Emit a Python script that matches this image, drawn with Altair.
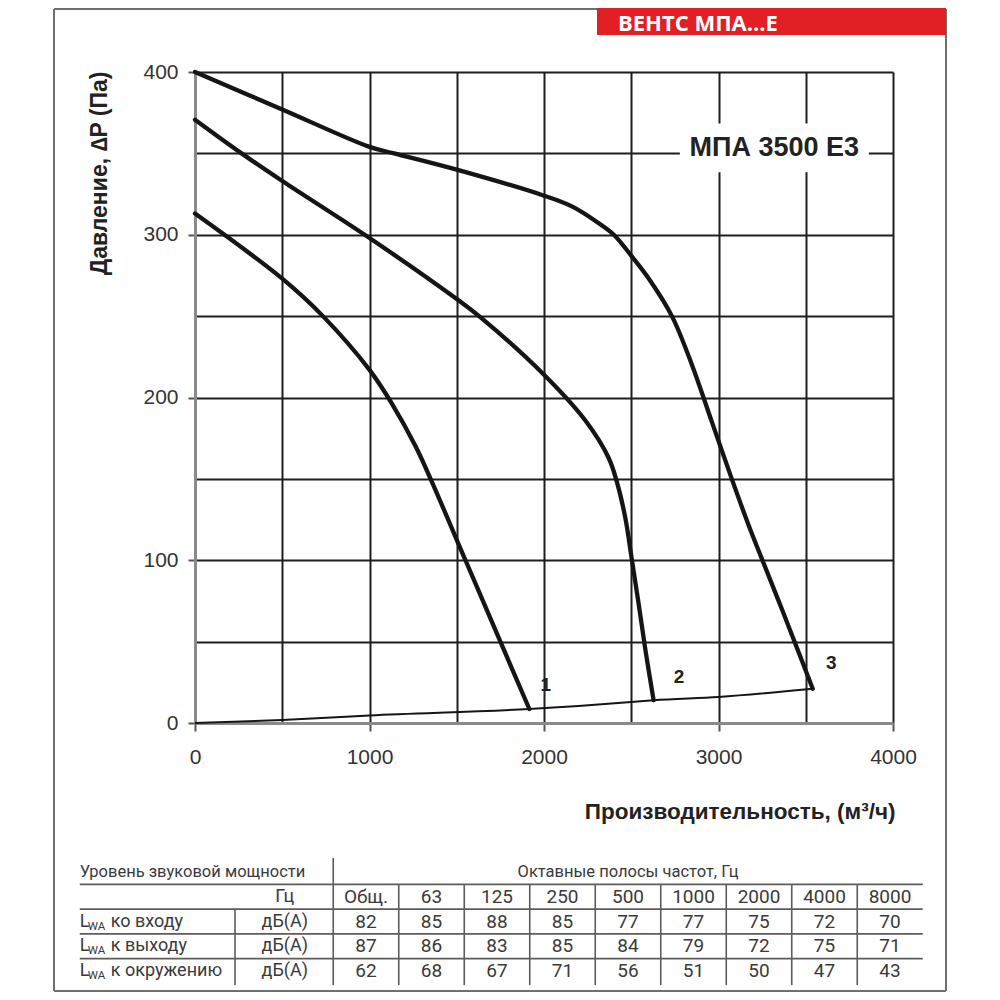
import altair as alt
import pandas as pd

# ---------------- chart data ----------------
Q1 = [0, 500, 733, 1000, 1130, 1264, 1350, 1550, 1750, 1916]
P1 = [313, 273, 250, 217, 196, 170, 150, 100, 50, 8.6]

Q2 = [0, 267, 500, 1000, 1500, 1628, 2000, 2236, 2370, 2418, 2466, 2504, 2542, 2581, 2628]
P2 = [370.7, 350, 333, 298, 260.5, 250, 214, 186, 163, 148, 126, 100, 73.5, 45, 14]

Q3 = [0, 500, 1000, 1141, 1500, 2000, 2160, 2312, 2400, 2503, 2598, 2733, 2848, 2962, 3076, 3171, 3248, 3363, 3497, 3540]
P3 = [400, 377, 354, 350, 340, 324, 317.4, 307.2, 300, 286.7, 273.4, 250, 220, 185, 150, 122, 101, 70, 33, 21]

QS = [0, 500, 1000, 1916, 2500, 2628, 3000, 3540]
PS = [0, 1.8, 4.6, 8.6, 12.9, 14, 16, 21]

CURVE_NAMES = ["1", "2", "3"]
LABEL_Q = [2010, 2774, 3646]
LABEL_P = [23.3, 28.5, 37]

MODEL = ["МПА 3500 Е3"]
MODEL_Q = [3320]
MODEL_P = [350]

SERIES = ["ВЕНТС МПА...Е"]

X_TITLE = "Производительность, (м³/ч)"
Y_TITLE = "Давление, ∆P (Па)"

# ---------------- table data ----------------
HEAD_LEFT = "Уровень звуковой мощности"
HEAD_RIGHT = "Октавные полосы частот, Гц"
BANDS = ["Общ.", "63", "125", "250", "500", "1000", "2000", "4000", "8000"]
UNIT_HEAD = "Гц"
UNIT = "дБ(А)"
ROW_LABELS = ["ко входу", "к выходу", "к окружению"]
IN_VALUES = [82, 85, 88, 85, 77, 77, 75, 72, 70]
OUT_VALUES = [87, 86, 83, 85, 84, 79, 72, 75, 71]
ENV_VALUES = [62, 68, 67, 71, 56, 51, 50, 47, 43]

# ---------------- layout ----------------
W, H = 698, 651
FONT = "Liberation Sans"
TFONT = "Roboto"
INK = "#151515"

xs = alt.Scale(domain=[0, 4000], nice=False, zero=False)
ys = alt.Scale(domain=[0, 400], nice=False, zero=False)

x_axis = alt.Axis(
    values=list(range(0, 4001, 500)),
    grid=True, gridColor="#1e1e1e", gridWidth=2,
    gridOpacity={"condition": {"test": "datum.value === 0", "value": 0}, "value": 1},
    domainColor="#8a8a8a", domainWidth=3,
    ticks=True, tickColor="#555555", tickWidth=2, tickSize=8,
    tickOpacity={"condition": {"test": "datum.value % 1000 !== 0", "value": 0}, "value": 1},
    labelExpr="datum.value % 1000 === 0 ? datum.label : ''",
    format="d", labelFont=FONT, labelFontSize=21, labelColor="#333333",
    labelPadding=15, labelFlush=False, labelOverlap=False,
    title=X_TITLE, titleFont=FONT, titleFontSize=22.5, titleFontWeight="bold",
    titleColor="#222222", titleX=700, titleY=95, titleAlign="right",
    titleBaseline="alphabetic",
)
y_axis = alt.Axis(
    values=list(range(0, 401, 50)),
    grid=True, gridColor="#1e1e1e", gridWidth=2,
    gridOpacity={"condition": {"test": "datum.value === 0", "value": 0}, "value": 1},
    domainColor="#8a8a8a", domainWidth=3,
    ticks=True, tickColor="#555555", tickWidth=2, tickSize=7,
    tickOpacity={"condition": {"test": "datum.value % 100 !== 0", "value": 0}, "value": 1},
    labelExpr="datum.value % 100 === 0 ? datum.label : ''",
    format="d", labelFont=FONT, labelFontSize=21, labelColor="#333333",
    labelPadding=10, labelFlush=False, labelOverlap=False,
    title=Y_TITLE, titleFont=FONT, titleFontSize=23, titleFontWeight="bold",
    titleColor="#222222", titleAngle=-90, titleX=-96, titleY=-1,
    titleAlign="right", titleBaseline="middle",
)

X = alt.X("q:Q", scale=xs, axis=x_axis)
Y = alt.Y("p:Q", scale=ys, axis=y_axis)

rows = []
for name, qs, ps in zip(CURVE_NAMES, [Q1, Q2, Q3], [P1, P2, P3]):
    for i, (q, p) in enumerate(zip(qs, ps)):
        rows.append({"curve": name, "i": i, "q": q, "p": p})
curves_df = pd.DataFrame(rows)
system_df = pd.DataFrame({"q": QS, "p": PS, "i": range(len(QS))})
labels_df = pd.DataFrame({"q": LABEL_Q, "p": LABEL_P, "t": CURVE_NAMES})
model_df = pd.DataFrame({"q": MODEL_Q, "p": MODEL_P, "t": MODEL})

curves = alt.Chart(curves_df).mark_line(
    color=INK, strokeWidth=4.3, interpolate="catmull-rom", strokeJoin="round", strokeCap="round"
).encode(x=X, y=Y, detail="curve:N", order="i:Q")
system = alt.Chart(system_df).mark_line(
    color=INK, strokeWidth=2, interpolate="monotone"
).encode(x=X, y=Y, order="i:Q")
curve_labels = alt.Chart(labels_df).mark_text(
    font=FONT, fontSize=19, fontWeight="bold", color="#222222", baseline="middle", align="center"
).encode(x=X, y=Y, text="t:N")
model_box = alt.Chart(model_df).mark_point(
    shape="M-1,-0.317H1V0.201H-1Z", filled=True, color="white", opacity=1,
    strokeWidth=0, size=189 * 189,
).encode(x=X, y=Y)
model_text = alt.Chart(model_df).mark_text(
    font=FONT, fontSize=27, fontWeight="bold", color="#222222",
    baseline="alphabetic", align="center", dy=3,
).encode(x=X, y=Y, text="t:N")
main = alt.layer(curves, system, curve_labels, model_box, model_text)

# ---------------- page decorations (page pixel scale) ----------------
pxs = alt.Scale(domain=[0, 1000], range=[-195, 805], nice=False, zero=False)
pys = alt.Scale(domain=[0, 1000], range=[-72, 928], nice=False, zero=False)
PX = alt.X("x:Q", scale=pxs, axis=None)
PY = alt.Y("y:Q", scale=pys, axis=None)

frame_df = pd.DataFrame({
    "x": [54, 946, 54, 54], "x2": [54, 946, 946, 946],
    "y": [9, 9, 9, 991], "y2": [991, 991, 9, 991],
})
banner_df = pd.DataFrame({"x": [597], "x2": [946], "y": [4], "y2": [35]})
banner_text_df = pd.DataFrame({"x": [618], "y": [23.5], "t": SERIES})

frame = alt.Chart(frame_df).mark_rule(color="#707070", strokeWidth=2).encode(
    x=PX, x2="x2:Q", y=PY, y2="y2:Q",
)
banner = alt.Chart(banner_df).mark_rect(color="#e31f26").encode(
    x=PX, x2="x2:Q", y=PY, y2="y2:Q",
)
banner_text = alt.Chart(banner_text_df).mark_text(
    font="Open Sans", fontSize=22, fontWeight="bold", color="white", align="left", baseline="middle"
).encode(x=PX, y=PY, text="t:N")

# ---------------- table (column / row scales) ----------------
txs = alt.Scale(domain=[0, 8], range=[171, 695], nice=False, zero=False)
tys = alt.Scale(domain=[0, 4], range=[800, 899], nice=False, zero=False)
TX = alt.X("c:Q", scale=txs, axis=None)
TY = alt.Y("r:Q", scale=tys, axis=None)
LEFT_COL = -4.37
UNIT_COL = -1.24
SEP_COL = -2.0
NB = len(BANDS)

num_rows = []
for k, b in enumerate(BANDS):
    num_rows.append({"c": k, "r": 1, "t": b})
for r, vals in zip([2, 3, 4], [IN_VALUES, OUT_VALUES, ENV_VALUES]):
    for k, v in enumerate(vals):
        num_rows.append({"c": k, "r": r, "t": str(v)})
num_df = pd.DataFrame(num_rows)

unit_df = pd.DataFrame({"c": [UNIT_COL] * 4, "r": [1, 2, 3, 4], "t": [UNIT_HEAD] + [UNIT] * 3})
head_df = pd.DataFrame({"c": [(NB - 1) / 2], "r": [0], "t": [HEAD_RIGHT]})
left_df = pd.DataFrame({"c": [LEFT_COL], "r": [0], "t": [HEAD_LEFT]})
lab_df = pd.DataFrame({"c": [LEFT_COL] * 3, "r": [2, 3, 4], "t": ROW_LABELS})

hlines = pd.DataFrame({"r": [0.5, 1.5, 2.5, 3.5], "c": [LEFT_COL] * 4, "c2": [NB - 0.5] * 4})
vl = [{"c": -0.5, "r": -0.57, "r2": 4.57}, {"c": SEP_COL, "r": 1.5, "r2": 4.57}]
for k in range(NB - 1):
    vl.append({"c": k + 0.5, "r": 0.5, "r2": 4.57})
vlines = pd.DataFrame(vl)

TCOL = "#3a3a3a"
LCOL = "#5c5c5c"

t_h = alt.Chart(hlines).mark_rule(color=LCOL, strokeWidth=1.6).encode(x=TX, x2="c2:Q", y=TY)
t_v = alt.Chart(vlines).mark_rule(color=LCOL, strokeWidth=1.6).encode(x=TX, y=TY, y2="r2:Q")
t_num = alt.Chart(num_df).mark_text(
    font=TFONT, fontSize=19, color=TCOL, align="center", baseline="middle"
).encode(x=TX, y=TY, text="t:N")
t_unit = alt.Chart(unit_df).mark_text(
    font=TFONT, fontSize=18, color=TCOL, align="center", baseline="middle"
).encode(x=TX, y=TY, text="t:N")
t_head = alt.Chart(head_df).mark_text(
    font=TFONT, fontSize=16.5, color=TCOL, align="center", baseline="middle"
).encode(x=TX, y=TY, text="t:N")
t_left = alt.Chart(left_df).mark_text(
    font=TFONT, fontSize=16.5, color=TCOL, align="left", baseline="middle"
).encode(x=TX, y=TY, text="t:N")
t_L = alt.Chart(lab_df).mark_text(
    font=TFONT, fontSize=18, color=TCOL, align="left", baseline="middle"
).encode(x=TX, y=TY, text=alt.value("L"))
t_sub = alt.Chart(lab_df).mark_text(
    font=TFONT, fontSize=11.5, color=TCOL, align="left", baseline="middle", dx=8, dy=5
).encode(x=TX, y=TY, text=alt.value("WA"))
t_lab = alt.Chart(lab_df).mark_text(
    font=TFONT, fontSize=18, color=TCOL, align="left", baseline="middle", dx=31
).encode(x=TX, y=TY, text="t:N")

chart = alt.layer(
    frame, banner, banner_text, main,
    t_h, t_v, t_num, t_unit, t_head, t_left, t_L, t_sub, t_lab,
).resolve_scale(
    x="independent", y="independent"
).properties(
    width=W, height=H,
    padding={"left": 187, "top": 64, "right": 99, "bottom": 269},
    autosize=alt.AutoSizeParams(type="none"),
    background="white",
).configure_view(stroke=None)

chart.save("out.html", embed_options={"renderer": "svg", "actions": False})
